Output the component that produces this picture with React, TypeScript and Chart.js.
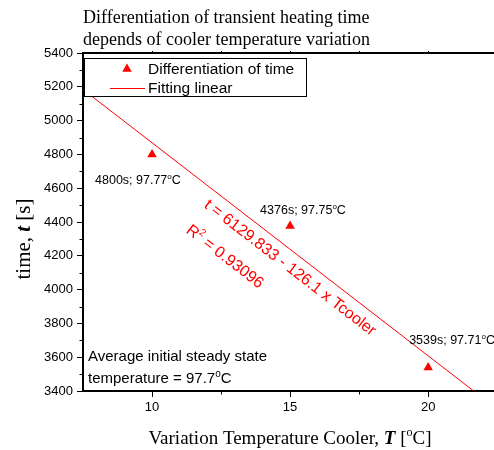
import React, { useEffect, useRef } from "react";
import { Chart, registerables } from "chart.js";

Chart.register(...registerables);

// ---- data ----
const coolerTemps = [10, 15, 20];
const heatingTimes = [4800, 4376, 3539];
const steadyTemps = ["97.77", "97.75", "97.71"];
const fitX = [7.5, 21.65];
const fitY = [5184.1, 3400];
const xTickValues = [10, 15, 20];
const xMinorTicks = [12.5, 17.5, 22.5];
const yMinorTicks = [3500, 3700, 3900, 4100, 4300, 4500, 4700, 4900, 5100, 5300];
const titleLines = [
  "Differentiation of transient heating time",
  "depends of cooler temperature variation",
];
const legendLabels = ["Differentiation of time", "Fitting linear"];
const fitEquation = "t = 6129.833 - 126.1 x Tcooler";
const fitR2 = "0.93096";
const avgTemp = "97.7";

// ---- styles ----
const SANS = '"Liberation Sans", Arial, sans-serif';
const SERIF = '"Liberation Serif", "Times New Roman", serif';
const RED = "#ff0000";
// label offsets (px) from each point: [left, baseline]
const labelOffsets = [
  [-57, 30],
  [-30, -12.5],
  [-19, -24],
];

type Seg = { t: string; font: string; dy?: number };

function segsWidth(ctx: CanvasRenderingContext2D, segs: Seg[]) {
  let w = 0;
  for (const s of segs) {
    ctx.font = s.font;
    w += ctx.measureText(s.t).width;
  }
  return w;
}

function drawSegs(
  ctx: CanvasRenderingContext2D,
  segs: Seg[],
  x: number,
  y: number,
  align: "left" | "center" = "left"
) {
  const total = segsWidth(ctx, segs);
  let cx = align === "center" ? x - total / 2 : x;
  ctx.textAlign = "left";
  ctx.textBaseline = "alphabetic";
  for (const s of segs) {
    ctx.font = s.font;
    ctx.fillText(s.t, cx, y + (s.dy || 0));
    cx += ctx.measureText(s.t).width;
  }
}

const decorPlugin = {
  id: "decor",
  afterDraw(chart: any) {
    const ctx: CanvasRenderingContext2D = chart.ctx;
    const area = chart.chartArea;
    const xs = chart.scales.x;
    const ys = chart.scales.y;
    ctx.save();

    // top frame line
    ctx.strokeStyle = "#000";
    ctx.lineWidth = 2;
    ctx.beginPath();
    ctx.moveTo(area.left - 1, area.top);
    ctx.lineTo(area.right, area.top);
    ctx.stroke();

    // minor ticks
    ctx.lineWidth = 1;
    ctx.beginPath();
    for (const v of xMinorTicks) {
      const px = Math.round(xs.getPixelForValue(v)) + 0.5;
      ctx.moveTo(px, area.bottom);
      ctx.lineTo(px, area.bottom + 3.5);
      ctx.moveTo(px, area.top);
      ctx.lineTo(px, area.top - 2);
    }
    for (const v of xTickValues) {
      const px = Math.round(xs.getPixelForValue(v)) + 0.5;
      ctx.moveTo(px, area.top);
      ctx.lineTo(px, area.top - 2);
    }
    for (const v of yMinorTicks) {
      const py = Math.round(ys.getPixelForValue(v)) + 0.5;
      ctx.moveTo(area.left, py);
      ctx.lineTo(area.left - 3.5, py);
    }
    ctx.stroke();

    // title
    ctx.fillStyle = "#000";
    ctx.font = `18px ${SERIF}`;
    ctx.textAlign = "left";
    ctx.textBaseline = "alphabetic";
    ctx.fillText(titleLines[0], 83, 23);
    ctx.fillText(titleLines[1], 83, 45);

    // x axis title
    const xf = `19px ${SERIF}`;
    drawSegs(
      ctx,
      [
        { t: "Variation Temperature Cooler, ", font: xf },
        { t: "T", font: `bold italic 19px ${SERIF}` },
        { t: " [", font: xf },
        { t: "o", font: `12px ${SERIF}`, dy: -8 },
        { t: "C]", font: xf },
      ],
      290,
      444,
      "center"
    );

    // y axis title
    ctx.save();
    ctx.translate(30, 239);
    ctx.rotate(-Math.PI / 2);
    const yf = `21px ${SERIF}`;
    drawSegs(
      ctx,
      [
        { t: "time, ", font: yf },
        { t: "t", font: `bold italic 21px ${SERIF}` },
        { t: " [s]", font: yf },
      ],
      0,
      0,
      "center"
    );
    ctx.restore();

    // point labels
    const lf = `12.5px ${SANS}`;
    coolerTemps.forEach((xv, i) => {
      const px = xs.getPixelForValue(xv);
      const py = ys.getPixelForValue(heatingTimes[i]);
      drawSegs(
        ctx,
        [
          { t: `${heatingTimes[i]}s; ${steadyTemps[i]}`, font: lf },
          { t: "o", font: `8px ${SANS}`, dy: -5 },
          { t: "C", font: lf },
        ],
        px + labelOffsets[i][0],
        py + labelOffsets[i][1]
      );
    });

    // average annotation
    const af = `15px ${SANS}`;
    drawSegs(ctx, [{ t: "Average initial steady state", font: af }], 88, 360.5);
    drawSegs(
      ctx,
      [
        { t: `temperature = ${avgTemp}`, font: af },
        { t: "o", font: `10px ${SANS}`, dy: -6 },
        { t: "C", font: af },
      ],
      88,
      382.5
    );

    // rotated fit equation
    const p0x = xs.getPixelForValue(fitX[0]);
    const p0y = ys.getPixelForValue(fitY[0]);
    const p1x = xs.getPixelForValue(fitX[1]);
    const p1y = ys.getPixelForValue(fitY[1]);
    const ang = Math.atan2(p1y - p0y, p1x - p0x);
    ctx.fillStyle = RED;
    const ef = `16px ${SANS}`;
    ctx.font = ef;
    const w1 = ctx.measureText(fitEquation).width;
    ctx.save();
    ctx.translate(290, 268);
    ctx.rotate(ang);
    ctx.textBaseline = "middle";
    ctx.textAlign = "left";
    ctx.fillText(fitEquation, -w1 / 2, 0);
    ctx.restore();
    ctx.save();
    ctx.translate(290, 268);
    ctx.rotate(ang);
    drawSegs(
      ctx,
      [
        { t: "R", font: ef },
        { t: "2", font: `10px ${SANS}`, dy: -7 },
        { t: ` = ${fitR2}`, font: ef },
      ],
      -w1 / 2 + 1,
      30 + 5.5
    );
    ctx.restore();

    // legend
    ctx.fillStyle = "#fff";
    ctx.fillRect(84, 58, 222, 38);
    ctx.strokeStyle = "#000";
    ctx.lineWidth = 1;
    ctx.strokeRect(84.5, 58.5, 222, 38);
    // triangle marker
    ctx.fillStyle = RED;
    const tr = 5.5;
    const tx = 127,
      ty = 69;
    ctx.beginPath();
    ctx.moveTo(tx, ty - tr);
    ctx.lineTo(tx + tr * Math.sin((2 * Math.PI) / 3), ty + tr / 2);
    ctx.lineTo(tx - tr * Math.sin((2 * Math.PI) / 3), ty + tr / 2);
    ctx.closePath();
    ctx.fill();
    ctx.strokeStyle = RED;
    ctx.beginPath();
    ctx.moveTo(110, 88.5);
    ctx.lineTo(145, 88.5);
    ctx.stroke();
    ctx.fillStyle = "#000";
    ctx.font = `15.5px ${SANS}`;
    ctx.textAlign = "left";
    ctx.textBaseline = "alphabetic";
    ctx.fillText(legendLabels[0], 148, 74);
    ctx.fillText(legendLabels[1], 148, 93);

    ctx.restore();
  },
};

export default function App() {
  const ref = useRef<HTMLCanvasElement | null>(null);

  useEffect(() => {
    if (!ref.current) return;
    const tickFont = { family: SANS, size: 13 };
    const chart = new Chart(ref.current, {
      type: "scatter",
      data: {
        datasets: [
          {
            type: "scatter",
            label: legendLabels[0],
            data: coolerTemps.map((x, i) => ({ x, y: heatingTimes[i] })),
            pointStyle: "triangle",
            pointRadius: 5.5,
            backgroundColor: RED,
            borderColor: RED,
            borderWidth: 0,
          },
          {
            type: "line",
            label: legendLabels[1],
            data: fitX.map((x, i) => ({ x, y: fitY[i] })),
            borderColor: RED,
            borderWidth: 1,
            pointRadius: 0,
            fill: false,
          } as any,
        ],
      },
      options: {
        responsive: false,
        animation: false,
        devicePixelRatio: 1,
        layout: { padding: { top: 53, right: 9, left: 0, bottom: 0 } },
        plugins: {
          legend: { display: false },
          tooltip: { enabled: false },
          title: { display: false },
        },
        scales: {
          x: {
            type: "linear",
            min: 7.5,
            max: 23,
            afterBuildTicks: (s: any) => {
              s.ticks = xTickValues.map((v) => ({ value: v }));
            },
            afterFit: (s: any) => {
              s.height = 59;
            },
            ticks: {
              font: tickFont,
              color: "#000",
              padding: 3,
              maxRotation: 0,
              callback: (v: any) => String(v),
            },
            grid: {
              drawOnChartArea: false,
              drawTicks: true,
              tickLength: 6,
              color: "#000",
              lineWidth: 1,
            },
            border: { display: true, color: "#000", width: 2 },
          },
          y: {
            type: "linear",
            min: 3400,
            max: 5400,
            afterFit: (s: any) => {
              s.width = 83;
            },
            ticks: {
              stepSize: 200,
              font: tickFont,
              color: "#000",
              padding: 4,
              callback: (v: any) => String(v),
            },
            grid: {
              drawOnChartArea: false,
              drawTicks: true,
              tickLength: 6,
              color: "#000",
              lineWidth: 1,
            },
            border: { display: true, color: "#000", width: 2 },
          },
        },
      } as any,
      plugins: [decorPlugin],
    });
    return () => chart.destroy();
  }, []);

  return (
    <div
      style={{
        position: "fixed",
        left: 0,
        top: 0,
        width: 494,
        height: 450,
        overflow: "hidden",
        background: "#fff",
      }}
    >
      <canvas ref={ref} width={520} height={450} style={{ display: "block" }} />
    </div>
  );
}
